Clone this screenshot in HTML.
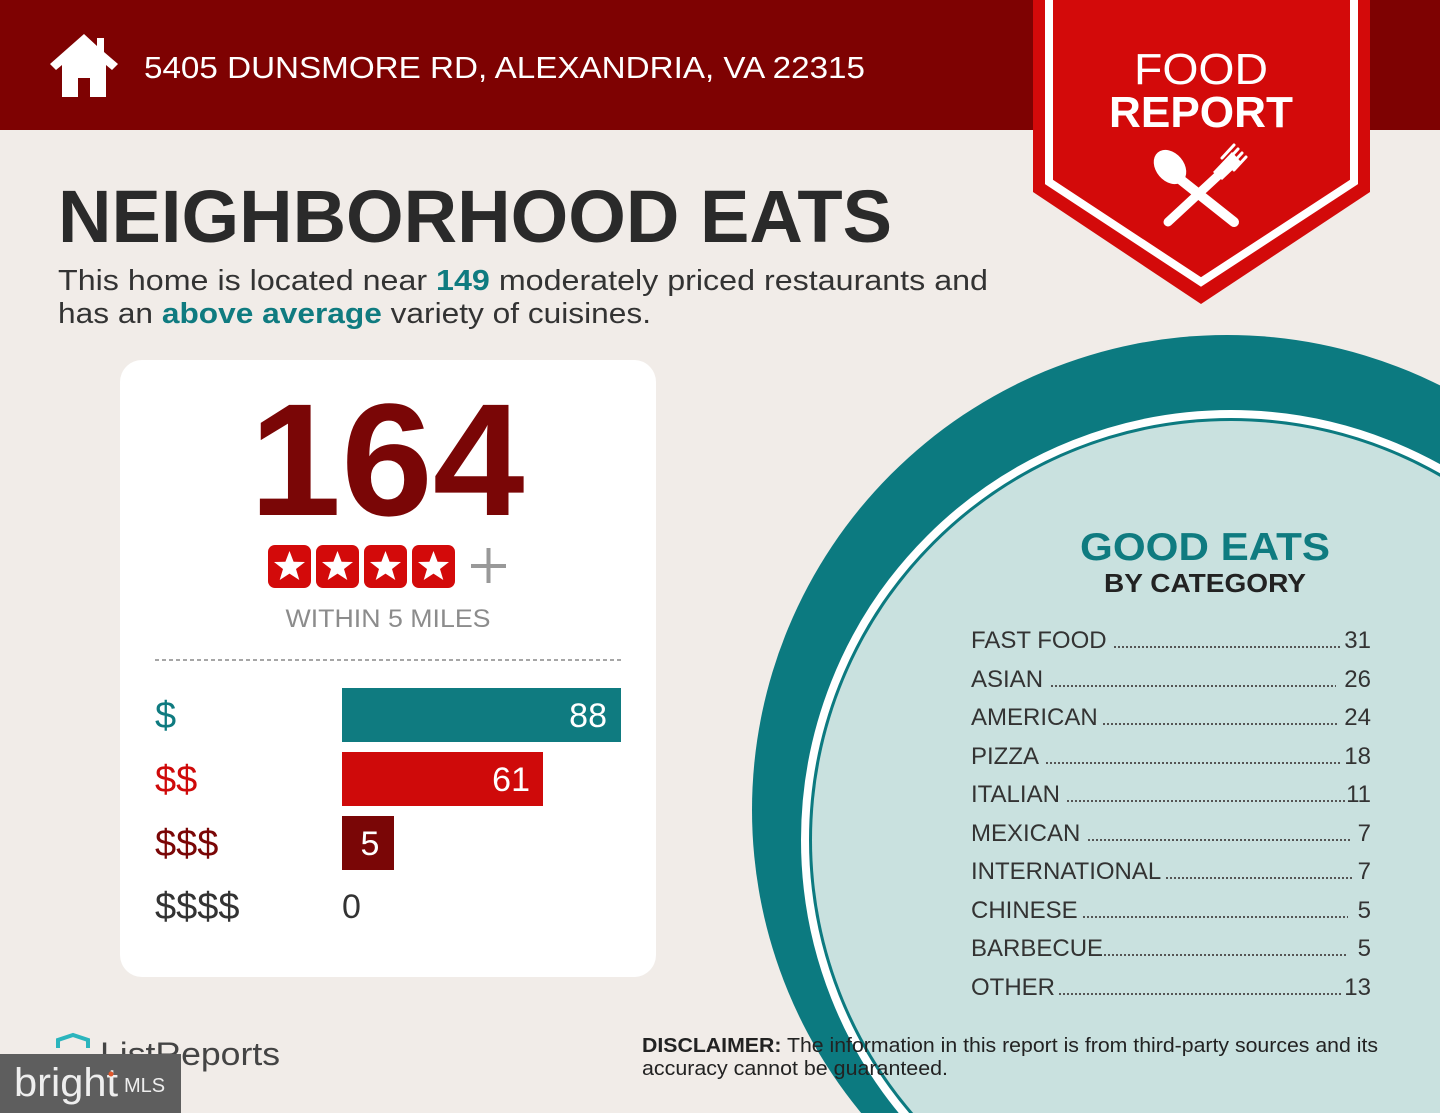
<!DOCTYPE html>
<html><head><meta charset="utf-8"><style>
html,body{margin:0;padding:0;background:#f1ece8;width:1440px;height:1113px;overflow:hidden;}
svg{display:block;}
text{font-family:"Liberation Sans",sans-serif;}
</style></head><body>
<svg width="1440" height="1113" viewBox="0 0 1440 1113" xmlns="http://www.w3.org/2000/svg">
<rect width="1440" height="1113" fill="#f1ece8"/>
<rect x="0" y="0" width="1440" height="130" fill="#7e0202"/>
<path d="M84 34 L50 64 L56 70 L62 65 L62 97 L78 97 L78 78 L90 78 L90 97 L106 97 L106 65 L112 70 L118 64 L104 52 L104 38 L97 38 L97 46 Z" fill="#fff"/>
<text x="144" y="78" font-size="31" fill="#fff" textLength="721" lengthAdjust="spacingAndGlyphs">5405 DUNSMORE RD, ALEXANDRIA, VA 22315</text>
<polygon points="1033,0 1370,0 1370,192 1201,304 1033,192" fill="#d30a0a"/>
<polyline points="1049,0 1049,182 1201,282 1354,182 1354,0" fill="none" stroke="#fff" stroke-width="8"/>
<text x="1201" y="84" font-size="44" fill="#fff" text-anchor="middle" textLength="134" lengthAdjust="spacingAndGlyphs">FOOD</text>
<text x="1201" y="127" font-size="44" font-weight="bold" fill="#fff" text-anchor="middle" textLength="184" lengthAdjust="spacingAndGlyphs">REPORT</text>
<g fill="#fff" stroke="#fff" stroke-linecap="round">
<line x1="1176" y1="176" x2="1234" y2="222" stroke-width="10"/>
<ellipse cx="1170" cy="167" rx="14" ry="19" transform="rotate(-40 1170 167)" stroke="none"/>
<line x1="1168" y1="222" x2="1222" y2="172" stroke-width="9"/>
<path d="M1213 172 L1232 152 L1241 162 L1222 180 Z" stroke="none"/>
<g stroke-width="3"><line x1="1226" y1="162" x2="1238" y2="149"/><line x1="1230" y1="166" x2="1242" y2="153"/><line x1="1234" y1="170" x2="1246" y2="157"/><line x1="1222" y1="158" x2="1234" y2="145"/></g>
</g>
<text x="58" y="242" font-size="74" font-weight="bold" fill="#2a2a2a" textLength="834" lengthAdjust="spacingAndGlyphs">NEIGHBORHOOD EATS</text>
<text x="58" y="290" font-size="29" fill="#333" textLength="930" lengthAdjust="spacingAndGlyphs">This home is located near <tspan font-weight="bold" fill="#0f7b80">149</tspan> moderately priced restaurants and</text>
<text x="58" y="323" font-size="29" fill="#333" textLength="593" lengthAdjust="spacingAndGlyphs">has an <tspan font-weight="bold" fill="#0f7b80">above average</tspan> variety of cuisines.</text>
<rect x="120" y="360" width="536" height="617" rx="22" fill="#fff"/>
<text x="387" y="515" font-size="160" font-weight="bold" fill="#7a0606" text-anchor="middle" textLength="275" lengthAdjust="spacingAndGlyphs">164</text>
<g>
<rect x="268" y="545" width="43" height="43" rx="7" fill="#d30a0a"/>
<rect x="316" y="545" width="43" height="43" rx="7" fill="#d30a0a"/>
<rect x="364" y="545" width="43" height="43" rx="7" fill="#d30a0a"/>
<rect x="412" y="545" width="43" height="43" rx="7" fill="#d30a0a"/>
<g fill="#fff">
<polygon points="289.5,551 293.6,561.8 305,562 296,569 299.3,580 289.5,573.6 279.7,580 283,569 274,562 285.4,561.8"/>
<polygon points="337.5,551 341.6,561.8 353,562 344,569 347.3,580 337.5,573.6 327.7,580 331,569 322,562 333.4,561.8"/>
<polygon points="385.5,551 389.6,561.8 401,562 392,569 395.3,580 385.5,573.6 375.7,580 379,569 370,562 381.4,561.8"/>
<polygon points="433.5,551 437.6,561.8 449,562 440,569 443.3,580 433.5,573.6 423.7,580 427,569 418,562 429.4,561.8"/>
</g>
<rect x="471" y="564" width="35" height="4" fill="#999"/>
<rect x="486.5" y="548" width="4" height="35" fill="#999"/>
</g>
<text x="388" y="627" font-size="25" fill="#8c8c8c" text-anchor="middle" textLength="205" lengthAdjust="spacingAndGlyphs">WITHIN 5 MILES</text>
<line x1="155" y1="660" x2="621" y2="660" stroke="#888" stroke-width="1.5" stroke-dasharray="4,3"/>
<rect x="342" y="688" width="279" height="54" fill="#0f7b80"/>
<rect x="342" y="752" width="201" height="54" fill="#cf0a0a"/>
<rect x="342" y="816" width="52" height="54" fill="#7a0606"/>
<text x="155" y="728" font-size="38" fill="#0f7b80">$</text>
<text x="155" y="792" font-size="38" fill="#cf0a0a">$$</text>
<text x="155" y="856" font-size="38" fill="#7a0606">$$$</text>
<text x="155" y="919" font-size="38" fill="#333">$$$$</text>
<text x="607" y="727" font-size="34" fill="#fff" text-anchor="end">88</text>
<text x="530" y="791" font-size="34" fill="#fff" text-anchor="end">61</text>
<text x="370" y="855" font-size="34" fill="#fff" text-anchor="middle">5</text>
<text x="342" y="918" font-size="34" fill="#333">0</text>
<circle cx="1227" cy="810" r="475" fill="#0c7a80"/>
<circle cx="1231" cy="840" r="426" fill="none" stroke="#fff" stroke-width="8"/>
<circle cx="1231" cy="840" r="419" fill="#c9e1df"/>
<text x="1205" y="560" font-size="39" font-weight="bold" fill="#0f7b80" text-anchor="middle" textLength="250" lengthAdjust="spacingAndGlyphs">GOOD EATS</text>
<text x="1205" y="592" font-size="26" font-weight="bold" fill="#222" text-anchor="middle" textLength="202" lengthAdjust="spacingAndGlyphs">BY CATEGORY</text>
<g font-size="24" fill="#333">
<text x="971" y="648">FAST FOOD</text><text x="1371" y="648" text-anchor="end">31</text>
<text x="971" y="687">ASIAN</text><text x="1371" y="687" text-anchor="end">26</text>
<text x="971" y="725">AMERICAN</text><text x="1371" y="725" text-anchor="end">24</text>
<text x="971" y="764">PIZZA</text><text x="1371" y="764" text-anchor="end">18</text>
<text x="971" y="802">ITALIAN</text><text x="1371" y="802" text-anchor="end">11</text>
<text x="971" y="841">MEXICAN</text><text x="1371" y="841" text-anchor="end">7</text>
<text x="971" y="879">INTERNATIONAL</text><text x="1371" y="879" text-anchor="end">7</text>
<text x="971" y="918">CHINESE</text><text x="1371" y="918" text-anchor="end">5</text>
<text x="971" y="956">BARBECUE</text><text x="1371" y="956" text-anchor="end">5</text>
<text x="971" y="995">OTHER</text><text x="1371" y="995" text-anchor="end">13</text>
<g stroke="#555" stroke-width="2" stroke-dasharray="2,2">
<line x1="1114" y1="647" x2="1342" y2="647"/>
<line x1="1051" y1="686" x2="1336" y2="686"/>
<line x1="1103" y1="724" x2="1337" y2="724"/>
<line x1="1046" y1="763" x2="1341" y2="763"/>
<line x1="1067" y1="801" x2="1347" y2="801"/>
<line x1="1088" y1="840" x2="1352" y2="840"/>
<line x1="1166" y1="878" x2="1352" y2="878"/>
<line x1="1083" y1="917" x2="1348" y2="917"/>
<line x1="1104" y1="955" x2="1348" y2="955"/>
<line x1="1059" y1="994" x2="1342" y2="994"/>
</g>
</g>
<text x="642" y="1052" font-size="20" fill="#222" textLength="736" lengthAdjust="spacingAndGlyphs"><tspan font-weight="bold">DISCLAIMER:</tspan> The information in this report is from third-party sources and its</text>
<text x="642" y="1075" font-size="20" fill="#222" textLength="306" lengthAdjust="spacingAndGlyphs">accuracy cannot be guaranteed.</text>
<path d="M58 1048 L58 1040 L73 1035 L88 1040 L88 1048" fill="none" stroke="#2bb5bd" stroke-width="4"/>
<text x="100" y="1065" font-size="32" fill="#444" textLength="180" lengthAdjust="spacingAndGlyphs">ListReports</text>
<rect x="0" y="1054" width="181" height="59" fill="#5e5e5e"/>
<text x="14" y="1096" font-size="40" fill="#eee" font-family="Liberation Serif, serif" textLength="104" lengthAdjust="spacingAndGlyphs">bright</text>
<text x="124" y="1092" font-size="20" fill="#eee">MLS</text>
<circle cx="111" cy="1074" r="2.5" fill="#e0572c"/>
</svg>
</body></html>
